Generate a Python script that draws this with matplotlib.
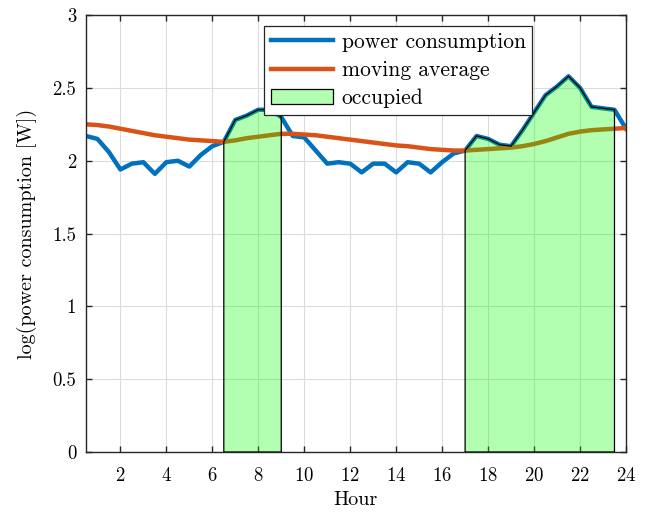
import numpy as np
import matplotlib
matplotlib.use("Agg")
import matplotlib.pyplot as plt

plt.rcParams["font.family"] = "cmr10"
plt.rcParams["axes.formatter.use_mathtext"] = True
plt.rcParams["mathtext.fontset"] = "cm"

# half-hourly samples
hours = np.arange(0.5, 24.01, 0.5)
power = [2.17, 2.15, 2.06, 1.94, 1.98, 1.99, 1.91, 1.99, 2.00, 1.96,
         2.04, 2.10, 2.13, 2.28, 2.31, 2.35, 2.35, 2.30, 2.17, 2.16,
         2.07, 1.98, 1.99, 1.98, 1.92, 1.98, 1.98, 1.92, 1.99, 1.98,
         1.92, 1.99, 2.05, 2.07, 2.17, 2.15, 2.11, 2.10, 2.21, 2.33,
         2.45, 2.51, 2.58, 2.50, 2.37, 2.36, 2.35, 2.22]
moving_avg = [2.25, 2.245, 2.235, 2.22, 2.205, 2.19, 2.175, 2.165, 2.155, 2.145,
              2.14, 2.135, 2.13, 2.14, 2.155, 2.165, 2.175, 2.185, 2.185, 2.18,
              2.175, 2.165, 2.155, 2.145, 2.135, 2.125, 2.115, 2.105, 2.10, 2.09,
              2.08, 2.075, 2.07, 2.07, 2.075, 2.08, 2.085, 2.09, 2.10, 2.115,
              2.135, 2.16, 2.185, 2.20, 2.21, 2.215, 2.22, 2.225]
occupied = [(6.5, 9.0), (17.0, 23.5)]

fig = plt.figure(figsize=(6.46, 5.14), dpi=100)
ax = fig.add_axes([0.133, 0.1206, 0.836, 0.850])

ax.plot(hours, power, color="#0072BD", lw=3.2, label="power consumption", zorder=2)
ax.plot(hours, moving_avg, color="#D95319", lw=3.2, label="moving average", zorder=2)

power = np.array(power)
for i, (start, end) in enumerate(occupied):
    m = (hours >= start - 1e-9) & (hours <= end + 1e-9)
    xs = np.concatenate([[start], hours[m], [end]])
    ys = np.concatenate([[0], power[m], [0]])
    ax.fill(xs, ys, facecolor=(0, 1, 0, 0.3), edgecolor="black", lw=0.9,
            label="occupied" if i == 0 else None, zorder=3)

ax.set_xlim(0.5, 24)
ax.set_ylim(0, 3)
ax.set_xticks(np.arange(2, 25, 2))
ax.set_yticks(np.arange(0, 3.01, 0.5))
ax.set_yticklabels(["0", "0.5", "1", "1.5", "2", "2.5", "3"])
ax.grid(True, color="#dcdcdc", lw=0.8)
ax.set_axisbelow(True)
ax.tick_params(direction="in", top=True, right=True, labelsize=13.5, length=4,
               width=1.0, color="#262626")
ax.tick_params(axis="x", pad=10.5)
ax.tick_params(axis="y", pad=7)
for s in ax.spines.values():
    s.set_color("#262626")
    s.set_linewidth(1.0)

ax.set_xlabel("Hour", fontsize=14.5, labelpad=5)
ax.set_ylabel("log(power consumption [W])", fontsize=14.5, labelpad=11)

leg = ax.legend(loc="upper left", bbox_to_anchor=(0.33, 0.975), fontsize=15.5,
                fancybox=False, framealpha=1, edgecolor="#262626",
                handlelength=2.9, borderpad=0.3, labelspacing=0.4,
                handletextpad=0.4, borderaxespad=0)
leg.get_frame().set_linewidth(0.9)
leg.set_zorder(5)

fig.savefig("out.png", dpi=100)
